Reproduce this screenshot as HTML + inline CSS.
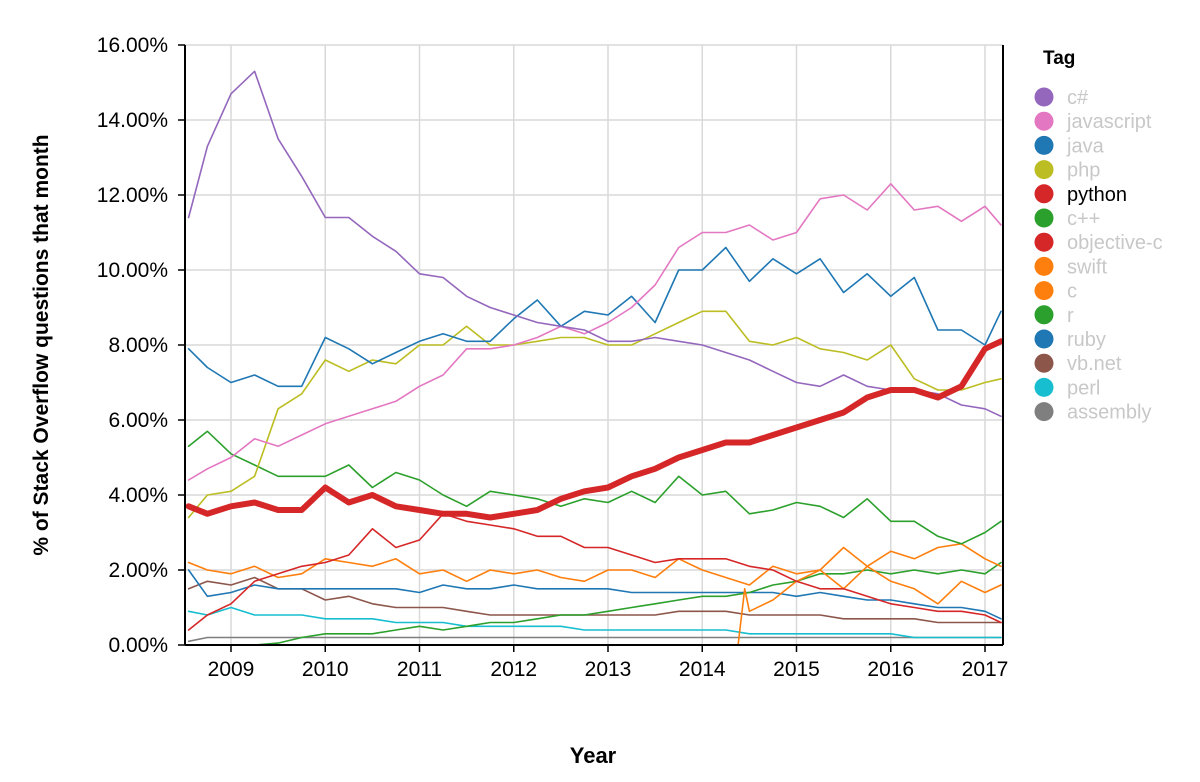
<!DOCTYPE html>
<html><head><meta charset="utf-8"><style>
html,body{margin:0;padding:0;background:#fff;}
svg{display:block;font-family:"Liberation Sans",sans-serif;}
</style></head><body>
<svg id="chart" width="1200" height="782">
<defs><clipPath id="plotclip"><rect x="185" y="40" width="818" height="607"/></clipPath></defs>
<g id="grid"></g>
<g id="series" clip-path="url(#plotclip)"></g>
<g id="axes"></g>
<g id="legend"></g>
<text x="593" y="763" text-anchor="middle" font-size="22" font-weight="bold">Year</text>
<text transform="translate(48,345) rotate(-90)" text-anchor="middle" font-size="21" font-weight="bold">% of Stack Overflow questions that month</text>
</svg>
<script>
const times=[2008.55,2008.75,2009.0,2009.25,2009.5,2009.75,2010.0,2010.25,2010.5,2010.75,2011.0,2011.25,2011.5,2011.75,2012.0,2012.25,2012.5,2012.75,2013.0,2013.25,2013.5,2013.75,2014.0,2014.25,2014.5,2014.75,2015.0,2015.25,2015.5,2015.75,2016.0,2016.25,2016.5,2016.75,2017.0,2017.17];
const tags=["c#","javascript","java","php","python","c++","objective-c","swift","c","r","ruby","vb.net","perl","assembly"];
const colors=["#9467bd","#e377c2","#1f77b4","#bcbd22","#d62728","#2ca02c","#d62728","#ff7f0e","#ff7f0e","#2ca02c","#1f77b4","#8c564b","#17becf","#7f7f7f"];
const csharp=[11.4,13.3,14.7,15.3,13.5,12.5,11.4,11.4,10.9,10.5,9.9,9.8,9.3,9.0,8.8,8.6,8.5,8.4,8.1,8.1,8.2,8.1,8.0,7.8,7.6,7.3,7.0,6.9,7.2,6.9,6.8,6.8,6.7,6.4,6.3,6.1];
const javascript=[4.4,4.7,5.0,5.5,5.3,5.6,5.9,6.1,6.3,6.5,6.9,7.2,7.9,7.9,8.0,8.2,8.5,8.3,8.6,9.0,9.6,10.6,11.0,11.0,11.2,10.8,11.0,11.9,12.0,11.6,12.3,11.6,11.7,11.3,11.7,11.2];
const java=[7.9,7.4,7.0,7.2,6.9,6.9,8.2,7.9,7.5,7.8,8.1,8.3,8.1,8.1,8.7,9.2,8.5,8.9,8.8,9.3,8.6,10.0,10.0,10.6,9.7,10.3,9.9,10.3,9.4,9.9,9.3,9.8,8.4,8.4,8.0,8.9];
const php=[3.4,4.0,4.1,4.5,6.3,6.7,7.6,7.3,7.6,7.5,8.0,8.0,8.5,8.0,8.0,8.1,8.2,8.2,8.0,8.0,8.3,8.6,8.9,8.9,8.1,8.0,8.2,7.9,7.8,7.6,8.0,7.1,6.8,6.8,7.0,7.1];
const python=[3.7,3.5,3.7,3.8,3.6,3.6,4.2,3.8,4.0,3.7,3.6,3.5,3.5,3.4,3.5,3.6,3.9,4.1,4.2,4.5,4.7,5.0,5.2,5.4,5.4,5.6,5.8,6.0,6.2,6.6,6.8,6.8,6.6,6.9,7.9,8.1];
const cpp=[5.3,5.7,5.1,4.8,4.5,4.5,4.5,4.8,4.2,4.6,4.4,4.0,3.7,4.1,4.0,3.9,3.7,3.9,3.8,4.1,3.8,4.5,4.0,4.1,3.5,3.6,3.8,3.7,3.4,3.9,3.3,3.3,2.9,2.7,3.0,3.3];
const objc=[0.4,0.8,1.1,1.7,1.9,2.1,2.2,2.4,3.1,2.6,2.8,3.5,3.3,3.2,3.1,2.9,2.9,2.6,2.6,2.4,2.2,2.3,2.3,2.3,2.1,2.0,1.7,1.5,1.5,1.3,1.1,1.0,0.9,0.9,0.8,0.6];
const swiftTimes=[2008.55,2014.38,2014.45,2014.5,2014.75,2015.0,2015.25,2015.5,2015.75,2016.0,2016.25,2016.5,2016.75,2017.0,2017.17];
const swift=[0,0,1.5,0.9,1.2,1.7,2.0,2.6,2.1,2.5,2.3,2.6,2.7,2.3,2.1];
const c=[2.2,2.0,1.9,2.1,1.8,1.9,2.3,2.2,2.1,2.3,1.9,2.0,1.7,2.0,1.9,2.0,1.8,1.7,2.0,2.0,1.8,2.3,2.0,1.8,1.6,2.1,1.9,2.0,1.5,2.1,1.7,1.5,1.1,1.7,1.4,1.6];
const r=[0,0,0,0,0.05,0.2,0.3,0.3,0.3,0.4,0.5,0.4,0.5,0.6,0.6,0.7,0.8,0.8,0.9,1.0,1.1,1.2,1.3,1.3,1.4,1.6,1.7,1.9,1.9,2.0,1.9,2.0,1.9,2.0,1.9,2.2];
const ruby=[2.0,1.3,1.4,1.6,1.5,1.5,1.5,1.5,1.5,1.5,1.4,1.6,1.5,1.5,1.6,1.5,1.5,1.5,1.5,1.4,1.4,1.4,1.4,1.4,1.4,1.4,1.3,1.4,1.3,1.2,1.2,1.1,1.0,1.0,0.9,0.7];
const vbnet=[1.5,1.7,1.6,1.8,1.5,1.5,1.2,1.3,1.1,1.0,1.0,1.0,0.9,0.8,0.8,0.8,0.8,0.8,0.8,0.8,0.8,0.9,0.9,0.9,0.8,0.8,0.8,0.8,0.7,0.7,0.7,0.7,0.6,0.6,0.6,0.6];
const perl=[0.9,0.8,1.0,0.8,0.8,0.8,0.7,0.7,0.7,0.6,0.6,0.6,0.5,0.5,0.5,0.5,0.5,0.4,0.4,0.4,0.4,0.4,0.4,0.4,0.3,0.3,0.3,0.3,0.3,0.3,0.3,0.2,0.2,0.2,0.2,0.2];
const assembly=[0.1,0.2,0.2,0.2,0.2,0.2,0.2,0.2,0.2,0.2,0.2,0.2,0.2,0.2,0.2,0.2,0.2,0.2,0.2,0.2,0.2,0.2,0.2,0.2,0.2,0.2,0.2,0.2,0.2,0.2,0.2,0.2,0.2,0.2,0.2,0.2];
const yearTicks=[2009,2010,2011,2012,2013,2014,2015,2016,2017];
const yTicks=[0,2,4,6,8,10,12,14,16];

const NS="http://www.w3.org/2000/svg";
const L=185,R=1003,T=45,B=645;
const xS=t=>231+(t-2009)*94.25;
const yS=v=>B-(v/16)*(B-T);
function mk(tag,attrs,parent){const e=document.createElementNS(NS,tag);for(const k in attrs)e.setAttribute(k,attrs[k]);parent.appendChild(e);return e;}
const grid=document.getElementById('grid'),axes=document.getElementById('axes'),ser=document.getElementById('series'),leg=document.getElementById('legend');
yTicks.forEach(v=>{
 const l=mk('line',{x1:L,x2:R,y1:yS(v),y2:yS(v),stroke:'#d9d9d9','stroke-width':1.5},grid);
 
 
 const tk=mk('line',{x1:L-7,x2:L,y1:yS(v),y2:yS(v),stroke:'#000','stroke-width':1.5},axes);
 
 
 const tx=mk('text',{x:168,y:yS(v)+7,'text-anchor':'end','font-size':21},axes);
 tx.textContent=v.toFixed(2)+'%';
 
 
});
yearTicks.forEach(y=>{
 const l=mk('line',{x1:xS(y),x2:xS(y),y1:T,y2:B,stroke:'#d9d9d9','stroke-width':1.5},grid);
 
 
 const tk=mk('line',{x1:xS(y),x2:xS(y),y1:B,y2:B+7,stroke:'#000','stroke-width':1.5},axes);
 
 
 const tx=mk('text',{x:xS(y),y:B+31,'text-anchor':'middle','font-size':21},axes);
 tx.textContent=String(y);
 
 
});
const ya=mk('line',{x1:L,x2:L,y1:T,y2:B,stroke:'#000','stroke-width':2},axes);


const xa=mk('line',{x1:L,x2:R,y1:B,y2:B,stroke:'#000','stroke-width':2},axes);


const ra=mk('line',{x1:R,x2:R,y1:T,y2:B,stroke:'#000','stroke-width':2},axes);



const data=[csharp,javascript,java,php,python,cpp,objc,swift,c,r,ruby,vbnet,perl,assembly];
const order=[13,12,11,10,9,8,7,6,5,3,2,1,0,4];
order.forEach(i=>{
 const ts=i===7?swiftTimes:times;
 const d=data[i].map((v,j)=>(j?'L':'M')+xS(ts[j]).toFixed(1)+','+yS(v).toFixed(1)).join('');
 const p=mk('path',{d:d,fill:'none',stroke:colors[i],'stroke-width':i===4?6:1.6,'stroke-linejoin':'round','stroke-linecap':'round'},ser);
 
 
});

const lt=mk('text',{x:1043,y:64,'font-size':19,'font-weight':'bold'},leg);
lt.textContent='Tag';


tags.forEach((t,i)=>{
 const y=97+i*24.2;
 const g=mk('g',{},leg);
 
 
 mk('circle',{cx:1044,cy:y,r:9.5,fill:colors[i]},g);
 const tx=mk('text',{x:1067,y:y+7,'font-size':20,fill:i===4?'#000':'#c8c8c8'},g);
 tx.textContent=t;
});
</script>
</body></html>
